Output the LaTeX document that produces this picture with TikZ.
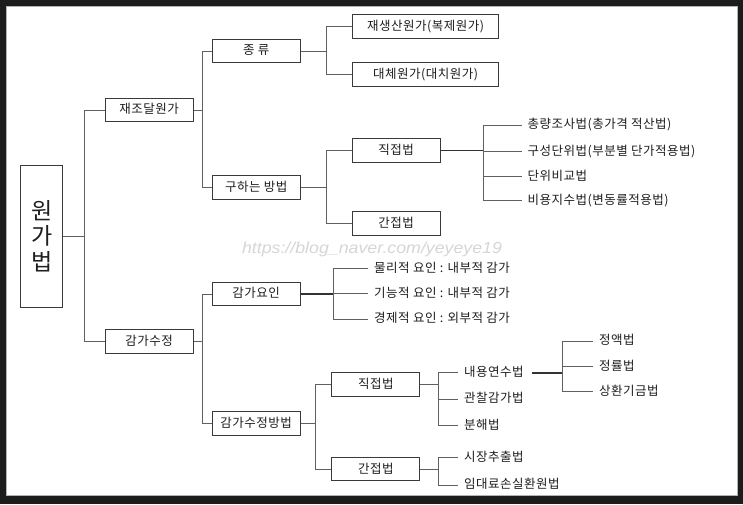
\documentclass[tikz,border=0pt]{standalone}
\usepackage{fontspec}
\usepackage{graphicx}
\setmainfont{Noto Sans CJK KR}[LetterSpace=4]
\newfontfamily\rootfont{Noto Sans CJK KR}
\newfontfamily\wmfont{Liberation Sans}
\definecolor{framec}{HTML}{1C1C1C}
\definecolor{boxc}{HTML}{3A3A3A}
\definecolor{linec}{HTML}{606060}
\definecolor{txtc}{HTML}{1E1E1E}
\definecolor{wmc}{HTML}{D6D6D6}
\tikzset{
  box/.style={draw=boxc, line width=1pt, fill=white, minimum width=88pt, minimum height=23.5pt,
    inner sep=0pt, text=txtc, font=\fontsize{12.5}{14}\selectfont, text height=0.88em, text depth=0.12em},
  widebox/.style={box, minimum width=146.7pt, minimum height=24pt},
  leaf/.style={anchor=west, inner xsep=6pt, inner ysep=1pt, text=txtc,
    font=\fontsize{12.5}{14}\selectfont, text height=0.88em, text depth=0.12em},
  conn/.style={draw=linec, line width=1pt},
  boldconn/.style={draw=black!80, line width=1.4pt}
}
\begin{document}
\begin{tikzpicture}[x=1pt,y=-1pt]
\useasboundingbox (0,0) rectangle (743,504);
\fill[framec] (0,0) rectangle (743,504);
\fill[white] (6,6) rectangle (737,495);
\draw[gray!60, line width=0.8pt] (6,6) rectangle (737,495);

% watermark
\node[text=wmc, inner sep=0pt] (wm) at (372,249) {\scalebox{1.11}[1]{\wmfont\itshape\fontsize{16}{16}\selectfont https://blog\_naver.com/yeyeye19}};

% boxes
\node[box, minimum width=42pt, minimum height=142pt, font=\rootfont\fontsize{23}{25.5}\selectfont, align=center, text height=, text depth=] (root) at (41.7,236.2) {원\\가\\법};
\node[box] (jaejodal) at (149,110) {재조달원가};
\node[box] (gamga) at (149,341.3) {감가수정};
\node[box] (jongryu) at (256.2,51) {종 류};
\node[box] (guha) at (256.2,187.7) {구하는 방법};
\node[widebox] (jaesaeng) at (425.6,26.3) {재생산원가(복제원가)};
\node[widebox] (daeche) at (425.6,74.3) {대체원가(대치원가)};
\node[box] (jik1) at (396,150.5) {직접법};
\node[box] (gan1) at (396,223.7) {간접법};
\node[box] (yoin) at (256.2,294) {감가요인};
\node[box] (bangbeop) at (256.2,423.7) {감가수정방법};
\node[box] (jik2) at (375.8,384.5) {직접법};
\node[box] (gan2) at (375.8,469.2) {간접법};

% leaves
\node[leaf] (l1) at (521.5,125) {총량조사법(총가격 적산법)};
\node[leaf] (l2) at (521.5,151.5) {구성단위법(부분별 단가적용법)};
\node[leaf] (l3) at (521.5,176.7) {단위비교법};
\node[leaf] (l4) at (521.5,200.7) {비용지수법(변동률적용법)};
\node[leaf] (f1) at (368,268.5) {물리적 요인 : 내부적 감가};
\node[leaf] (f2) at (368,293.5) {기능적 요인 : 내부적 감가};
\node[leaf] (f3) at (368,319) {경제적 요인 : 외부적 감가};
\node[leaf] (d1) at (458,372.5) {내용연수법};
\node[leaf] (d2) at (458,399) {관찰감가법};
\node[leaf] (d3) at (458,425.7) {분해법};
\node[leaf] (i1) at (458,457.7) {시장추출법};
\node[leaf] (i2) at (458,485) {임대료손실환원법};
\node[leaf] (n1) at (593,341) {정액법};
\node[leaf] (n2) at (593,366.7) {정률법};
\node[leaf] (n3) at (593,391.7) {상환기금법};

% bus coordinates
\coordinate (b0) at (84,236.2);
\coordinate (b1) at (202.3,110);
\coordinate (b2) at (202.3,341.3);
\coordinate (b3) at (326,51);
\coordinate (b4) at (326,187.7);
\coordinate (b5) at (483.3,150.5);
\coordinate (b6) at (333.3,294);
\coordinate (b7) at (315.7,423.7);
\coordinate (b8) at (438.3,384.5);
\coordinate (b9) at (438.3,469.2);
\coordinate (b10) at (562.3,373);
\coordinate (nstart) at (532.3,373);

% connectors
\draw[conn] (root.east) -- (b0) |- (jaejodal.west);
\draw[conn] (b0) |- (gamga.west);
\draw[conn] (jaejodal.east) -- (b1) |- (jongryu.west);
\draw[conn] (b1) |- (guha.west);
\draw[conn] (gamga.east) -- (b2) |- (yoin.west);
\draw[conn] (b2) |- (bangbeop.west);
\draw[conn] (jongryu.east) -- (b3) |- (jaesaeng.west);
\draw[conn] (b3) |- (daeche.west);
\draw[conn] (guha.east) -- (b4) |- (jik1.west);
\draw[conn] (b4) |- (gan1.west);
\draw[boldconn] (jik1.east) -- (b5);
\draw[conn] (b5) |- (l1.west);
\draw[conn] (b5) |- (l2.west);
\draw[conn] (b5) |- (l3.west);
\draw[conn] (b5) |- (l4.west);
\draw[boldconn] (yoin.east) -- (b6);
\draw[conn] (b6) |- (f1.west);
\draw[conn] (b6) |- (f2.west);
\draw[conn] (b6) |- (f3.west);
\draw[conn] (bangbeop.east) -- (b7) |- (jik2.west);
\draw[conn] (b7) |- (gan2.west);
\draw[conn] (jik2.east) -- (b8) |- (d1.west);
\draw[conn] (b8) |- (d2.west);
\draw[conn] (b8) |- (d3.west);
\draw[conn] (gan2.east) -- (b9) |- (i1.west);
\draw[conn] (b9) |- (i2.west);
\draw[boldconn] (nstart) -- (b10);
\draw[conn] (b10) |- (n1.west);
\draw[conn] (b10) |- (n2.west);
\draw[conn] (b10) |- (n3.west);
\end{tikzpicture}
\end{document}
